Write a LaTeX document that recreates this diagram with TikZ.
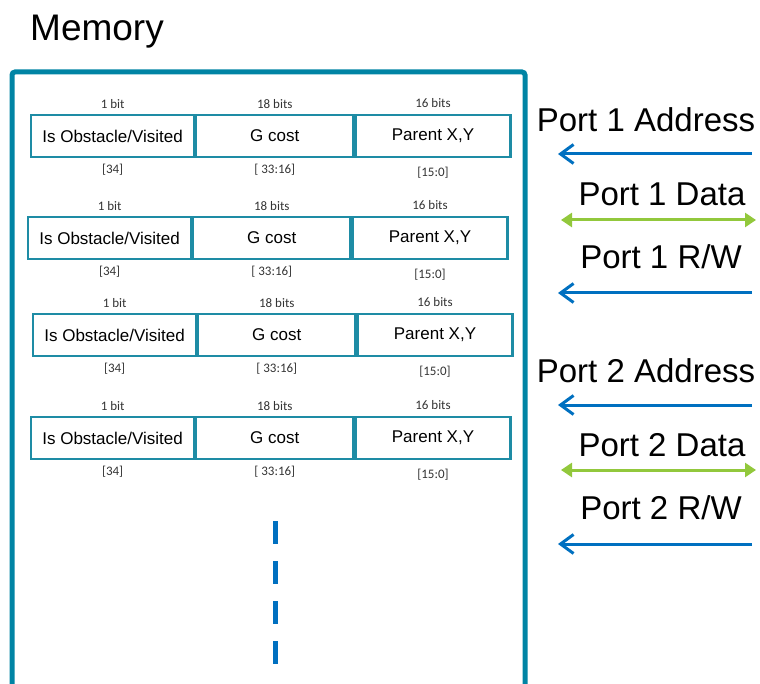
\documentclass[tikz,border=0pt]{standalone}
\usepackage{fontspec}
\setmainfont{Liberation Sans}
\newfontfamily\bitfont{Carlito}
\usetikzlibrary{arrows.meta, positioning}
\definecolor{framecolor}{RGB}{0, 132, 164}
\definecolor{cellcolor}{RGB}{30, 140, 165}
\definecolor{arrowblue}{RGB}{0, 112, 192}
\definecolor{datagreen}{RGB}{146, 200, 60}
\tikzset{
    % Memory word cells
    cellnode/.style={
        draw=cellcolor, line width=2.2pt, inner sep=0pt,
        minimum height=42pt, font=\fontsize{17}{20}\selectfont
    },
    flagnode/.style={cellnode, minimum width=163pt},
    costnode/.style={cellnode, minimum width=157pt},
    parentnode/.style={cellnode, minimum width=155pt},
    % Labels
    bitlabel/.style={font=\bitfont\fontsize{13}{15}\selectfont, text=black!80, inner sep=0pt},
    titlelabel/.style={font=\fontsize{37}{44}\selectfont, anchor=base west, inner sep=0pt},
    portlabel/.style={font=\fontsize{33}{40}\selectfont, anchor=base, inner sep=0pt},
    % Arrows
    addrarrow/.style={-{Straight Barb[length=13pt, width=19pt]}, line width=3pt, arrowblue},
    dataarrow/.style={{Triangle[length=11pt, width=14pt]}-{Triangle[length=11pt, width=14pt]}, line width=3pt, datagreen},
    % Frame and continuation marks
    framebox/.style={draw=framecolor, line width=5pt, rounded corners=3pt},
    moremark/.style={arrowblue, line width=5pt, dash pattern=on 23pt off 17pt},
}
\begin{document}
\begin{tikzpicture}[x=1pt, y=-1pt]

\useasboundingbox (0,0) rectangle (760,684);

% Title and memory frame
\node[titlelabel] (title) at (30,41) {Memory};
\draw[framebox] (12,684) -- (12,72) -- (525,72) -- (525,684);

% Word 1
\node (flag1) [flagnode, anchor=north west] at (30,114) {Is Obstacle/Visited};
\node (cost1) [costnode, right=0pt of flag1] {G cost};
\node (parent1) [parentnode, right=0pt of cost1] {Parent X,Y};
\node[bitlabel, above=5pt of flag1] {1 bit};
\node[bitlabel, above=5pt of cost1] {18 bits};
\node[bitlabel, above=6pt of parent1] {16 bits};
\node[bitlabel, below=6pt of flag1] {[34]};
\node[bitlabel, below=6pt of cost1] {[ 33:16]};
\node[bitlabel, below=9pt of parent1] {[15:0]};

% Word 2
\node (flag2) [flagnode, anchor=north west] at (27,216) {Is Obstacle/Visited};
\node (cost2) [costnode, right=0pt of flag2] {G cost};
\node (parent2) [parentnode, right=0pt of cost2] {Parent X,Y};
\node[bitlabel, above=5pt of flag2] {1 bit};
\node[bitlabel, above=5pt of cost2] {18 bits};
\node[bitlabel, above=6pt of parent2] {16 bits};
\node[bitlabel, below=6pt of flag2] {[34]};
\node[bitlabel, below=6pt of cost2] {[ 33:16]};
\node[bitlabel, below=9pt of parent2] {[15:0]};

% Word 3
\node (flag3) [flagnode, anchor=north west] at (32,313) {Is Obstacle/Visited};
\node (cost3) [costnode, right=0pt of flag3] {G cost};
\node (parent3) [parentnode, right=0pt of cost3] {Parent X,Y};
\node[bitlabel, above=5pt of flag3] {1 bit};
\node[bitlabel, above=5pt of cost3] {18 bits};
\node[bitlabel, above=6pt of parent3] {16 bits};
\node[bitlabel, below=6pt of flag3] {[34]};
\node[bitlabel, below=6pt of cost3] {[ 33:16]};
\node[bitlabel, below=9pt of parent3] {[15:0]};

% Word 4
\node (flag4) [flagnode, anchor=north west] at (30,416) {Is Obstacle/Visited};
\node (cost4) [costnode, right=0pt of flag4] {G cost};
\node (parent4) [parentnode, right=0pt of cost4] {Parent X,Y};
\node[bitlabel, above=5pt of flag4] {1 bit};
\node[bitlabel, above=5pt of cost4] {18 bits};
\node[bitlabel, above=6pt of parent4] {16 bits};
\node[bitlabel, below=6pt of flag4] {[34]};
\node[bitlabel, below=6pt of cost4] {[ 33:16]};
\node[bitlabel, below=9pt of parent4] {[15:0]};

% More words below
\draw[moremark] (275,521) -- (275,665);

% Port labels
\node[portlabel] (addr1) at (646,132) {Port 1 Address};
\node[portlabel] (data1) at (662,206) {Port 1 Data};
\node[portlabel] (rw1) at (661,269) {Port 1 R/W};
\node[portlabel] (addr2) at (646,382) {Port 2 Address};
\node[portlabel] (data2) at (662,456) {Port 2 Data};
\node[portlabel] (rw2) at (661,519) {Port 2 R/W};

% Port wires
\coordinate (addr1in) at (752,154);
\coordinate (addr1mem) at (558,154);
\coordinate (data1a) at (561,220);
\coordinate (data1b) at (756,220);
\coordinate (rw1in) at (752,293);
\coordinate (rw1mem) at (558,293);
\coordinate (addr2in) at (752,405);
\coordinate (addr2mem) at (558,405);
\coordinate (data2a) at (561,470);
\coordinate (data2b) at (756,470);
\coordinate (rw2in) at (752,544);
\coordinate (rw2mem) at (558,544);

\draw[addrarrow] (addr1in) -- (addr1mem);
\draw[dataarrow] (data1a) -- (data1b);
\draw[addrarrow] (rw1in) -- (rw1mem);
\draw[addrarrow] (addr2in) -- (addr2mem);
\draw[dataarrow] (data2a) -- (data2b);
\draw[addrarrow] (rw2in) -- (rw2mem);

\end{tikzpicture}
\end{document}
